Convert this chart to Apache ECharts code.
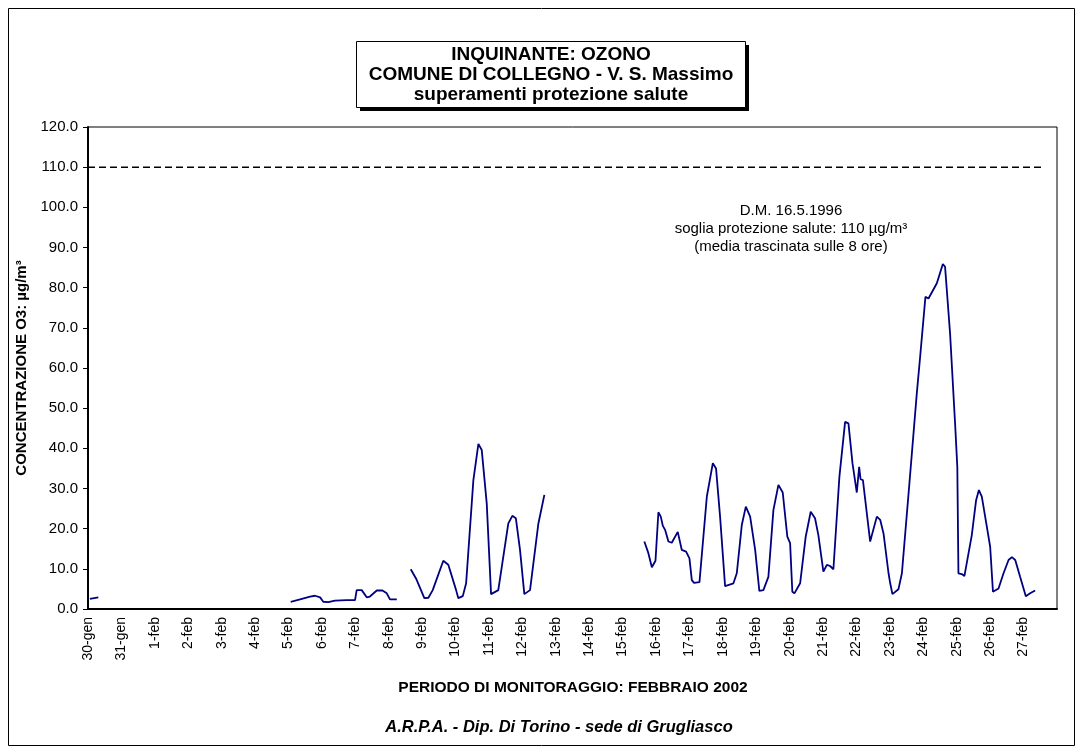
<!DOCTYPE html>
<html>
<head>
<meta charset="utf-8">
<script src="https://cdn.jsdelivr.net/npm/echarts@6/dist/echarts.min.js"></script>
<style>
  html, body { margin: 0; padding: 0; background: #fff; }
  #chart { width: 1083px; height: 754px; }
</style>
</head>
<body>
<div id="chart"></div>
<script>
// Day labels, one per 24 hourly slots, starting 30 January 2002
const dayLabels = ['30-gen', '31-gen', '1-feb', '2-feb', '3-feb', '4-feb', '5-feb', '6-feb',
  '7-feb', '8-feb', '9-feb', '10-feb', '11-feb', '12-feb', '13-feb', '14-feb', '15-feb',
  '16-feb', '17-feb', '18-feb', '19-feb', '20-feb', '21-feb', '22-feb', '23-feb', '24-feb',
  '25-feb', '26-feb', '27-feb'];

// 8-hour running mean of ozone, [hour since 30-gen 00:00, µg/m³]; gaps are missing data
const seg30gen = [[1.4, 2.5], [7.4, 2.9]];

const seg5feb = [[145.6, 1.8], [152.3, 2.4], [159.5, 3.1], [163.1, 3.3], [166.7, 2.9],
  [169.0, 1.8], [172.6, 1.7], [177.4, 2.1], [185.8, 2.2], [191.8, 2.2], [193.0, 4.7],
  [196.6, 4.7], [200.2, 2.9], [202.5, 3.1], [207.4, 4.6], [211.5, 4.6], [214.6, 3.9],
  [216.9, 2.4], [221.8, 2.4]];

const seg9feb = [[231.8, 9.9], [235.6, 7.6], [241.6, 2.7], [244.5, 2.8], [247.6, 4.7],
  [255.2, 12.0], [258.8, 11.0], [264.4, 4.7], [266.0, 2.7], [269.2, 3.2], [271.6, 6.4],
  [276.8, 32.1], [280.4, 41.1], [282.8, 39.6], [286.4, 26.3], [289.5, 3.7], [294.7, 4.7],
  [301.9, 21.3], [304.8, 23.2], [307.3, 22.6], [310.3, 14.7], [313.4, 3.7], [317.5, 4.7],
  [323.5, 21.3], [327.8, 28.4]];

const seg16feb = [[399.6, 16.8], [402.5, 13.9], [405.0, 10.4], [407.6, 12.0], [409.7, 24.1],
  [411.4, 23.0], [412.9, 20.7], [414.5, 19.7], [416.9, 16.8], [419.3, 16.5], [423.6, 19.2],
  [426.5, 14.7], [429.6, 14.3], [432.0, 12.6], [433.7, 7.2], [435.3, 6.5], [439.2, 6.7],
  [444.5, 28.0], [448.8, 36.3], [451.1, 35.0], [454.0, 23.0], [457.6, 5.7], [463.6, 6.4],
  [466.0, 8.9], [469.6, 20.9], [472.5, 25.5], [475.6, 23.0], [479.2, 14.7], [482.2, 4.5],
  [485.1, 4.7], [488.7, 8.0], [492.3, 24.6], [495.9, 30.9], [499.0, 29.0], [502.3, 18.0],
  [504.3, 16.4], [505.9, 4.3], [507.4, 3.9], [511.5, 6.4], [515.5, 18.0], [519.1, 24.2],
  [522.2, 22.6], [524.6, 18.4], [528.2, 9.3], [530.7, 11.0], [533.0, 10.7], [535.4, 9.9],
  [539.7, 32.9], [543.8, 46.6], [546.2, 46.2], [549.1, 36.3], [552.2, 29.0], [553.9, 35.4],
  [554.9, 32.3], [556.6, 32.1], [561.8, 16.8], [566.6, 23.0], [569.0, 22.2], [571.4, 18.8],
  [575.0, 8.9], [576.2, 6.4], [577.8, 3.7], [582.1, 4.9], [584.6, 8.9], [590.0, 31.3],
  [595.3, 53.7], [597.7, 62.8], [601.5, 77.7], [603.7, 77.3], [609.7, 81.1], [614.0, 85.9],
  [615.6, 85.2], [619.2, 68.6], [622.8, 46.2], [624.4, 35.4], [625.2, 8.9], [627.6, 8.7],
  [629.5, 8.2], [634.8, 18.4], [637.9, 27.1], [639.9, 29.6], [642.0, 28.0], [645.6, 20.5],
  [648.0, 15.5], [650.0, 4.3], [654.0, 5.1], [657.6, 8.9], [661.2, 12.2], [663.6, 12.9],
  [666.0, 12.2], [669.5, 8.0], [673.6, 3.2], [676.7, 3.9], [680.3, 4.6]];

// Health protection threshold (D.M. 16.5.1996)
const thresholdValue = 110;
const thresholdSpan = [0, 687];

const FONT = '"Liberation Sans", Arial, sans-serif';
const chart = echarts.init(document.getElementById('chart'), null, { renderer: 'canvas' });

const ozoneLine = (data) => ({
  type: 'line',
  data: data,
  symbol: 'none',
  showSymbol: false,
  smooth: false,
  lineStyle: { color: '#000080', width: 1.8 },
  silent: true,
  z: 3
});

const centered = (x, y, text, font) => ({
  type: 'text', x: x, y: y, z: 12,
  style: { text: text, fill: '#000', font: font, textAlign: 'center', textVerticalAlign: 'middle' }
});

chart.setOption({
  animation: false,
  backgroundColor: '#fff',
  grid: {
    left: 88, right: 26, top: 127, bottom: 145,
    show: true, borderColor: '#000', borderWidth: 1, backgroundColor: '#fff'
  },
  xAxis: {
    type: 'value',
    min: 0, max: 24 * dayLabels.length, interval: 24,
    axisLine: { show: true, onZero: false, lineStyle: { color: '#000', width: 2 } },
    axisTick: { show: false },
    splitLine: { show: false },
    axisLabel: {
      rotate: 90, margin: 8, color: '#000', fontFamily: FONT, fontSize: 14,
      formatter: (v) => dayLabels[Math.round(v / 24)] || ''
    }
  },
  yAxis: {
    type: 'value',
    min: 0, max: 120, interval: 10,
    name: 'CONCENTRAZIONE O3: µg/m³',
    nameLocation: 'middle', nameGap: 58,
    nameTextStyle: { color: '#000', fontFamily: FONT, fontSize: 15, fontWeight: 'bold' },
    axisLine: { show: true, lineStyle: { color: '#000', width: 2 } },
    axisTick: { show: true, length: 5, lineStyle: { color: '#000', width: 1 } },
    splitLine: { show: false },
    axisLabel: {
      margin: 10, color: '#000', fontFamily: FONT, fontSize: 15,
      formatter: (v) => v.toFixed(1)
    }
  },
  series: [
    {
      type: 'line',
      data: thresholdSpan.map((x) => [x, thresholdValue]),
      symbol: 'none',
      lineStyle: { color: '#000', width: 1.5, type: [7, 4] },
      silent: true,
      z: 2
    },
    ozoneLine(seg30gen),
    ozoneLine(seg5feb),
    ozoneLine(seg9feb),
    ozoneLine(seg16feb)
  ],
  graphic: [
    // outer frame
    { type: 'rect', shape: { x: 8.5, y: 8.5, width: 1066, height: 737 },
      style: { fill: 'none', stroke: '#000', lineWidth: 1 }, z: 0 },
    // title box with drop shadow
    { type: 'rect', shape: { x: 360, y: 45, width: 389, height: 66 },
      style: { fill: '#000' }, z: 10 },
    { type: 'rect', shape: { x: 356.5, y: 41.5, width: 389, height: 66 },
      style: { fill: '#fff', stroke: '#000', lineWidth: 1 }, z: 11 },
    centered(551, 55, 'INQUINANTE: OZONO', 'bold 19px ' + FONT),
    centered(551, 75, 'COMUNE DI COLLEGNO - V. S. Massimo', 'bold 19px ' + FONT),
    centered(551, 95, 'superamenti protezione salute', 'bold 19px ' + FONT),
    // threshold note
    centered(791, 211, 'D.M. 16.5.1996', '15px ' + FONT),
    centered(791, 229, 'soglia protezione salute: 110 µg/m³', '15px ' + FONT),
    centered(791, 247, '(media trascinata sulle 8 ore)', '15px ' + FONT),
    // x axis title and source
    centered(573, 688, 'PERIODO DI MONITORAGGIO: FEBBRAIO 2002', 'bold 15.5px ' + FONT),
    centered(559, 727, 'A.R.P.A. - Dip. Di Torino - sede di Grugliasco', 'italic bold 16.5px ' + FONT)
  ]
});
</script>
</body>
</html>
